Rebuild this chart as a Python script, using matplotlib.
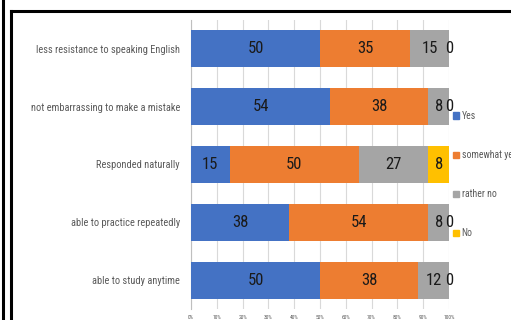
import matplotlib
matplotlib.use("Agg")
import matplotlib.pyplot as plt
from matplotlib.lines import Line2D
from matplotlib.patches import Patch
import numpy as np

# survey items, listed top to bottom
items = ["less resistance to speaking English",
         "not embarrassing to make a mistake",
         "Responded naturally",
         "able to practice repeatedly",
         "able to study anytime"]

answers = ["Yes", "somewhat yes", "rather no", "No"]
yes = [50, 54, 15, 38, 50]
somewhat_yes = [35, 38, 50, 54, 38]
rather_no = [15, 8, 27, 8, 12]
no = [0, 0, 8, 0, 0]

colors = ["#4472C4", "#ED7D31", "#A5A5A5", "#FFC000"]
plt.rcParams["font.family"] = ["Roboto Condensed", "DejaVu Sans"]

fig = plt.figure(figsize=(5.11, 3.2), dpi=100)
ax = fig.add_axes([191 / 511, 1 - 309 / 320, 258 / 511, 289 / 320])

y = np.arange(len(items))
left = np.zeros(len(items))
for name, vals, c in zip(answers, [yes, somewhat_yes, rather_no, no], colors):
    vals = np.array(vals, dtype=float)
    bars = ax.barh(y, vals, left=left, height=0.64, color=c, label=name, zorder=3)
    for b, v in zip(bars, vals):
        ax.text(b.get_x() + b.get_width() / 2, b.get_y() + b.get_height() / 2,
                f"{v:.0f}", ha="center", va="center", fontsize=12,
                color="#1a1a1a", zorder=4)
    left += vals

ax.set_xlim(0, 100)
ax.set_ylim(len(items) - 0.5, -0.5)
ax.set_yticks(y)
ax.set_yticklabels(items, fontsize=7.5, color="#595959")
ax.set_xticks(np.arange(0, 101, 10))
ax.set_xticklabels([f"{t}%" for t in range(0, 101, 10)], fontsize=4, color="#595959")
ax.tick_params(axis="y", length=0, pad=8)
ax.tick_params(axis="x", length=0, pad=4)
ax.grid(axis="x", color="#d9d9d9", lw=0.8, zorder=0)
for s in ["top", "right", "bottom"]:
    ax.spines[s].set_visible(False)
ax.spines["left"].set_color("#bfbfbf")

handles = [Patch(color=c) for c in colors]
fig.legend(handles, answers, loc="upper left", bbox_to_anchor=(449 / 511, 1 - 107 / 320),
           frameon=False, fontsize=7, labelcolor="#595959", handlelength=0.6,
           handleheight=0.6, handletextpad=0.3, labelspacing=3.0, borderaxespad=0)

# outer frame lines
fig.add_artist(Line2D([3 / 511, 3 / 511], [0, 1], color="black", lw=2.2))
fig.add_artist(Line2D([11 / 511, 11 / 511], [0, 1 - 11 / 320], color="black", lw=2.2))
fig.add_artist(Line2D([11 / 511, 1], [1 - 11 / 320, 1 - 11 / 320], color="black", lw=2.2))

fig.savefig("out.png", dpi=100)
